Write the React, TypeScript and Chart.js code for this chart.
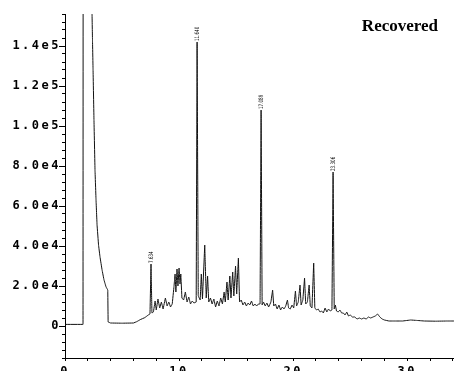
import React, { useEffect, useRef } from 'react';
import { Chart, registerables } from 'chart.js';

Chart.register(...registerables);

// Retention time (min) and detector response of the background trace
const traceTimes = [
  0, 1.58, 1.6, 2.3, 2.37, 2.41, 2.46, 2.54, 2.63, 2.72, 2.81, 2.94, 3.07, 3.25, 3.42, 3.6, 3.75, 3.78,
  4.0, 5.0, 6.0, 6.3, 6.6, 7.0, 7.3, 7.45, 7.62, 7.75, 7.9, 8.0, 8.15, 8.3, 8.45, 8.6, 8.8, 8.95,
  9.1, 9.25, 9.4, 9.55, 9.65, 9.72, 9.82, 9.9, 10.0, 10.08, 10.15, 10.25, 10.4, 10.55, 10.7, 10.85,
  11.0, 11.15, 11.3, 11.5, 11.68, 11.85, 11.95, 12.05, 12.25, 12.38, 12.5, 12.6, 12.75, 12.9, 13.05,
  13.2, 13.35, 13.5, 13.65, 13.8, 13.95, 14.05, 14.2, 14.3, 14.45, 14.55, 14.7, 14.8, 14.95, 15.05,
  15.2, 15.3, 15.45, 15.6, 15.75, 15.9, 16.05, 16.2, 16.35, 16.5, 16.65, 16.8, 16.95, 17.1, 17.28,
  17.4, 17.55, 17.7, 17.85, 18.05, 18.2, 18.3, 18.45, 18.6, 18.75, 18.9, 19.05, 19.2, 19.35, 19.5,
  19.6, 19.75, 19.9, 20.05, 20.2, 20.3, 20.45, 20.6, 20.7, 20.85, 21.0, 21.1, 21.25, 21.4, 21.5,
  21.65, 21.8, 21.9, 22.05, 22.2, 22.35, 22.5, 22.65, 22.8, 22.95, 23.1, 23.25, 23.4, 23.6, 23.7,
  23.8, 23.95, 24.1, 24.25, 24.4, 24.55, 24.7, 24.85, 25.0, 25.2, 25.4, 25.6, 25.8, 26.0, 26.2, 26.4,
  26.6, 26.8, 27.0, 27.2, 27.4, 27.6, 27.8, 28.0, 28.4, 29.0, 29.6, 30.3, 30.8, 31.5, 32.5, 33.5, 34.1,
];
const traceIntensities = [
  800, 800, 400000, 400000, 156000, 143000, 128000, 103000, 78000, 63000, 50500, 40500, 34500, 28000, 23000, 19500, 18000, 2000,
  1500, 1400, 1500, 2200, 3200, 4200, 5500, 6000, 6500, 7000, 12500, 8000, 13500, 9000, 12000, 8500, 14000, 10000,
  12000, 9500, 11000, 19500, 26000, 17000, 28500, 20000, 29000, 21000, 26000, 14000, 13000, 17000, 12000, 14500,
  11000, 12500, 11500, 12000, 15000, 13000, 26000, 13500, 40500, 14000, 25000, 12000, 14000, 11000, 13500,
  9500, 12500, 10000, 14000, 11000, 17000, 12000, 22000, 13000, 25000, 14000, 27000, 15000, 30000, 16000,
  34000, 12000, 13000, 10500, 12000, 10000, 11500, 10500, 12500, 10000, 11000, 10000, 11000, 11000, 10500,
  12000, 10000, 11500, 9500, 12000, 18000, 10000, 11000, 8500, 10500, 8000, 9500, 8500, 10000, 13000,
  9000, 8500, 10500, 9000, 17500, 10000, 12000, 20500, 10500, 13000, 24000, 11000, 12000, 20500, 10000,
  9000, 31500, 9000, 8000, 8500, 7000, 7500, 6500, 9000, 7000, 8500, 7500, 8000, 8500, 10500,
  7500, 7000, 8000, 6500, 6500, 5500, 7000, 5000, 5500, 4500, 4500, 3500, 4000, 3500, 4000, 3500,
  4500, 4000, 4500, 5000, 6000, 4500, 3500, 3000, 2500, 2500, 2500, 3000, 2800, 2500, 2400, 2500, 2500,
];

// Labelled peaks
const peakTimes = [7.54, 11.58, 17.19, 23.5];
const peakHeights = [31000, 142000, 108000, 77000];
const peakLabels = ['7.634', '11.640', '17.089', '23.306'];

// Axis tick labels
const yLabelValues = [0, 20000, 40000, 60000, 80000, 100000, 120000, 140000];
const yLabelTexts = ['0', '2.0e4', '4.0e4', '6.0e4', '8.0e4', '1.0e5', '1.2e5', '1.4e5'];
const xLabelValues = [0, 10, 20, 30];
const xLabelTexts = ['0', '10', '20', '30'];

const titleText = 'Recovered';

export default function App() {
  const ref = useRef<HTMLCanvasElement | null>(null);

  useEffect(() => {
    if (!ref.current) return;
    const pts = traceTimes.map((t, i) => ({ x: t, y: traceIntensities[i] }));
    peakTimes.forEach((t, i) => pts.push({ x: t, y: peakHeights[i] }));
    pts.sort((a, b) => a.x - b.x);

    const spacingPlugin = {
      id: 'spacing',
      beforeDraw(chart: any) {
        (chart.ctx as any).letterSpacing = '2.5px';
      },
      beforeDatasetsDraw(chart: any) {
        (chart.ctx as any).letterSpacing = '0px';
      },
    };

    const annotate = {
      id: 'annotate',
      afterDatasetsDraw(chart: any) {
        const ctx = chart.ctx;
        const xs = chart.scales.x;
        const ys = chart.scales.y;
        ctx.save();
        (ctx as any).letterSpacing = '0px';
        ctx.fillStyle = '#000';
        ctx.font = '6px "DejaVu Sans"';
        ctx.textAlign = 'left';
        ctx.textBaseline = 'middle';
        peakTimes.forEach((t, i) => {
          const px = xs.getPixelForValue(t);
          const py = ys.getPixelForValue(peakHeights[i]);
          ctx.save();
          ctx.translate(px, py - 1);
          ctx.rotate(-Math.PI / 2);
          ctx.scale(0.68, 1);
          ctx.fillText(peakLabels[i], 0, 0);
          ctx.restore();
        });
        // longer marks at the labelled y ticks
        ctx.strokeStyle = '#000';
        ctx.lineWidth = 1;
        const left = chart.chartArea.left;
        yLabelValues.forEach((v) => {
          const y = Math.round(ys.getPixelForValue(v)) + 0.5;
          ctx.beginPath();
          ctx.moveTo(left - 6, y);
          ctx.lineTo(left, y);
          ctx.stroke();
        });
        ctx.restore();
      },
      afterDraw(chart: any) {
        const ctx = chart.ctx;
        const a = chart.chartArea;
        ctx.save();
        (ctx as any).letterSpacing = '0px';
        ctx.fillStyle = '#000';
        ctx.font = 'bold 17px "Liberation Serif"';
        ctx.textAlign = 'right';
        ctx.textBaseline = 'alphabetic';
        ctx.fillText(titleText, a.right - 16, a.top + 17);
        ctx.restore();
      },
    };

    const chart = new Chart(ref.current, {
      type: 'line',
      data: {
        datasets: [
          {
            data: pts,
            borderColor: '#111',
            borderWidth: 1,
            pointRadius: 0,
            tension: 0.0001,
            capBezierPoints: false,
            fill: false,
          },
        ],
      },
      options: {
        animation: false,
        responsive: false,
        devicePixelRatio: 1,
        layout: { padding: { top: 14, right: 0, left: 0, bottom: 0 } },
        plugins: {
          legend: { display: false },
          tooltip: { enabled: false },
          title: { display: false },
        },
        scales: {
          x: {
            type: 'linear',
            min: 0,
            max: 34.1,
            border: { display: true, color: '#000', width: 1 },
            grid: { drawOnChartArea: false, drawTicks: true, tickLength: 3, color: '#000' },
            ticks: {
              stepSize: 2,
              autoSkip: false,
              includeBounds: false,
              maxRotation: 0,
              padding: 4,
              color: '#000',
              font: { family: '"DejaVu Sans Mono"', size: 12, weight: 'bold' },
              callback: (v: any) => {
                const idx = xLabelValues.indexOf(Math.round(Number(v)));
                return idx >= 0 && Math.abs(Number(v) - xLabelValues[idx]) < 1e-6 ? xLabelTexts[idx] : '';
              },
            },
            afterFit: (s: any) => {
              s.height = 13;
              s.paddingLeft = 0;
              s.paddingRight = 0;
            },
          },
          y: {
            type: 'linear',
            min: -16000,
            max: 156000,
            border: { display: true, color: '#000', width: 1 },
            grid: { drawOnChartArea: false, drawTicks: true, tickLength: 3, color: '#000' },
            ticks: {
              stepSize: 4000,
              autoSkip: false,
              includeBounds: false,
              padding: 1,
              color: '#000',
              font: { family: '"DejaVu Sans Mono"', size: 12, weight: 'bold' },
              callback: (v: any) => {
                const idx = yLabelValues.indexOf(Math.round(Number(v)));
                return idx >= 0 ? yLabelTexts[idx] : '';
              },
            },
            afterFit: (s: any) => {
              s.width = 65;
              s.paddingTop = 0;
              s.paddingBottom = 0;
            },
          },
        },
      },
      plugins: [spacingPlugin, annotate],
    } as any);

    return () => chart.destroy();
  }, []);

  return (
    <div style={{ position: 'fixed', left: 0, top: 0, width: 454, height: 371, overflow: 'hidden', background: '#fff' }}>
      <canvas ref={ref} width={454} height={371} style={{ display: 'block' }} />
    </div>
  );
}
